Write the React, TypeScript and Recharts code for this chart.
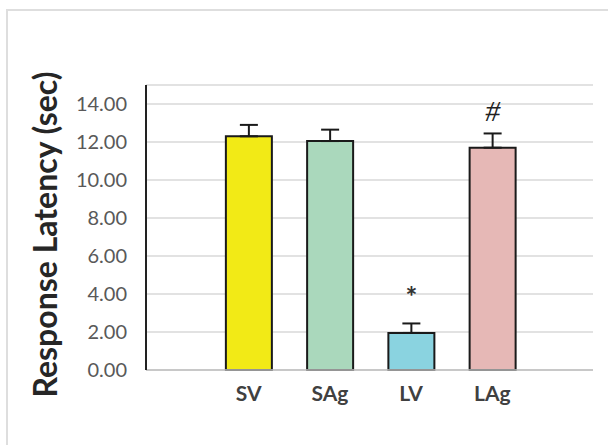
import { Bar, BarChart, CartesianGrid, Cell, ErrorBar, LabelList, XAxis, YAxis } from "recharts";

const groups = ["SV", "SAg", "LV", "LAg"];
const latency = [12.3, 12.05, 1.95, 11.7];
const sem = [0.6, 0.6, 0.5, 0.75];
const marks = ["", "", "*", "#"];
const fills = ["#F2EA16", "#AAD8BC", "#8AD3E0", "#E6B8B6"];
const yTicks = [0, 2, 4, 6, 8, 10, 12, 14];

const rows = groups.map((name, i) => ({
  name,
  value: latency[i],
  err: [0, sem[i]],
  mark: marks[i],
}));

const FONT = "Lato, 'Open Sans', sans-serif";

// significance symbol sits just over the upper whisker
function renderMark(props: any) {
  const { x, y, width, height, value, index } = props;
  if (!value) return null;
  const perUnit = height / latency[index];
  const top = y - sem[index] * perUnit;
  const isHash = value === "#";
  return (
    <text
      x={x + width / 2}
      y={top - (isHash ? 12 : 16)}
      textAnchor="middle"
      fontFamily={isHash ? "'Liberation Serif', serif" : FONT}
      fontSize={isHash ? 30 : 28}
      fontStyle={isHash ? "italic" : "normal"}
      fontWeight={isHash ? 400 : 700}
      fill={isHash ? "#222" : "#333"}
    >
      {value}
    </text>
  );
}

export default function App() {
  return (
    <div style={{ position: "absolute", left: 0, top: 0, width: 608, height: 445, overflow: "hidden", background: "#fff" }}>
      <div
        style={{
          position: "absolute",
          left: 6,
          top: 9,
          width: 700,
          height: 600,
          border: "2px solid #dedede",
        }}
      />
      <div style={{ position: "absolute", left: 0, top: 0 }}>
        <BarChart width={608} height={445} data={rows} margin={{ top: 85, right: 15, bottom: 0, left: 0 }} barCategoryGap="22%">
          <CartesianGrid vertical={false} stroke="#d9d9d9" strokeWidth={1.5} />
          <XAxis
            dataKey="name"
            axisLine={{ stroke: "#bfbfbf", strokeWidth: 1.5 }}
            tickLine={false}
            tickSize={0}
            tickMargin={16}
            padding={{ left: 62, right: 60 }}
            tick={{ fontFamily: FONT, fontSize: 21, fontWeight: 700, fill: "#404040" }}
            height={75}
          />
          <XAxis xAxisId="top" dataKey="name" orientation="top" axisLine={{ stroke: "#222", strokeWidth: 2 }} tick={false} tickLine={false} height={0} />
          <YAxis
            domain={[0, 15]}
            ticks={yTicks}
            width={146}
            axisLine={{ stroke: "#222", strokeWidth: 2 }}
            tickLine={false}
            tickSize={0}
            tickMargin={19}
            tickFormatter={(v: number) => v.toFixed(2)}
            tick={{ fontFamily: FONT, fontSize: 20, fill: "#595959" }}
            label={{
              value: "Response Latency (sec)",
              angle: -90,
              position: "insideLeft",
              dx: 41,
              dy: 7,
              style: { fontFamily: FONT, fontSize: 32, fontWeight: 700, fill: "#262626", textAnchor: "middle" },
            }}
          />
          <YAxis yAxisId="right" orientation="right" domain={[0, 15]} axisLine={{ stroke: "#222", strokeWidth: 2 }} tick={false} tickLine={false} width={0} />
          <Bar dataKey="value" stroke="#1a1a1a" strokeWidth={2} isAnimationActive={false}>
            {rows.map((r, i) => (
              <Cell key={r.name} fill={fills[i]} />
            ))}
            <ErrorBar dataKey="err" width={9} stroke="#1a1a1a" strokeWidth={2} />
            <LabelList dataKey="mark" content={renderMark} />
          </Bar>
        </BarChart>
      </div>
    </div>
  );
}
